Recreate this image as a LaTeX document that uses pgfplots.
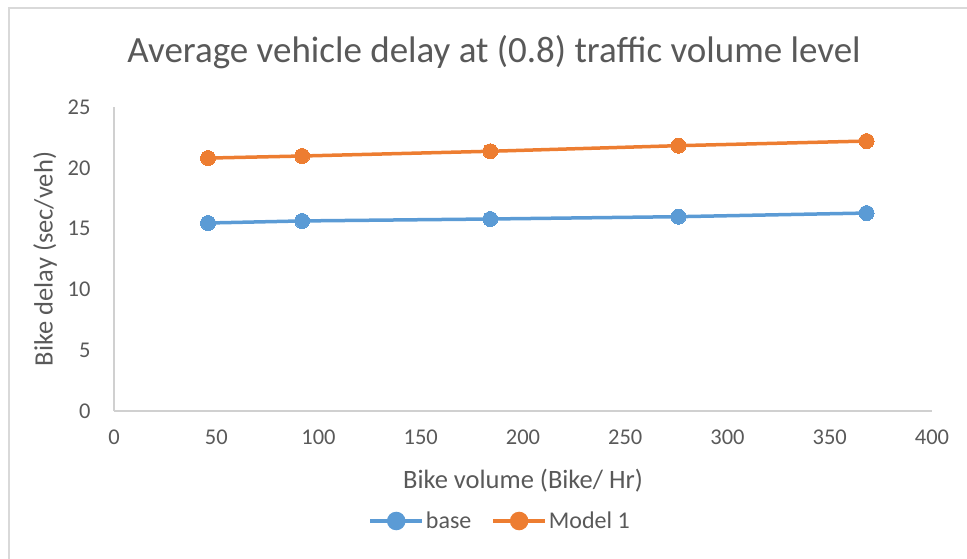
\documentclass[border=0pt]{standalone}
\usepackage{fontspec}
\setmainfont{Carlito}
\usepackage{pgfplots}
\pgfplotsset{compat=1.18}
\definecolor{exblue}{HTML}{5B9BD5}
\definecolor{exorange}{HTML}{ED7D31}
\definecolor{txtgray}{HTML}{595959}
\definecolor{axgray}{HTML}{D0D0D0}
\definecolor{bordgray}{HTML}{D9D9D9}
\begin{document}
\begin{tikzpicture}[x=1pt,y=1pt]
\useasboundingbox (0,0) rectangle (967,558);
\draw[bordgray, line width=1.5pt] (9,-5) -- (9,550) -- (975,550);
\node[txtgray, font=\fontsize{37}{44}\selectfont] at (494,506) {Average vehicle delay at (0.8) traffic volume level};
\begin{axis}[
  at={(114pt,147pt)}, anchor=south west,
  scale only axis, width=818pt, height=304pt,
  xmin=0, xmax=400, ymin=0, ymax=25,
  xtick={0,50,...,400}, ytick={0,5,...,25},
  axis x line*=bottom, axis y line*=left,
  axis line style={axgray, line width=1.3pt, -},
  major tick style={draw=none},
  xtick style={draw=none},
  ytick style={draw=none},
  /pgf/number format/assume math mode=true,
  tick label style={txtgray, font=\fontsize{22.5}{26}\selectfont},
  xticklabel style={yshift=-15pt},
  yticklabel style={xshift=-20pt},
  xlabel={Bike volume (Bike/ Hr)},
  ylabel={Bike delay (sec/veh)},
  label style={txtgray, font=\fontsize{26.5}{30}\selectfont},
  xlabel style={at={(axis description cs:0.5,-0.230)}, anchor=center},
  ylabel style={at={(axis description cs:-0.0844,0.5)}, anchor=center},
  legend columns=2,
  legend style={at={(0.472,0)}, anchor=center, yshift=-110pt, draw=none, fill=none,
    font=\fontsize{24}{28}\selectfont, text=txtgray,
    /tikz/every even column/.append style={column sep=18pt}},
  legend image code/.code={
    \draw[#1, line width=3.5pt] (0pt,0pt) -- (52pt,0pt);
    \fill[#1] (26pt,0pt) circle (7.5pt);
  },
  clip=false,
]
\addplot[exblue, line width=3.5pt, mark=*, mark size=7.5pt, mark options={solid, draw=exblue, fill=exblue, line width=0pt}]
  coordinates {(46,15.46) (92,15.63) (184,15.79) (276,15.98) (368,16.28)};
\addlegendentry{base}
\addplot[exorange, line width=3.5pt, mark=*, mark size=7.5pt, mark options={solid, draw=exorange, fill=exorange, line width=0pt}]
  coordinates {(46,20.8) (92,20.97) (184,21.36) (276,21.82) (368,22.2)};
\addlegendentry{Model 1}
\end{axis}
\end{tikzpicture}
\end{document}
